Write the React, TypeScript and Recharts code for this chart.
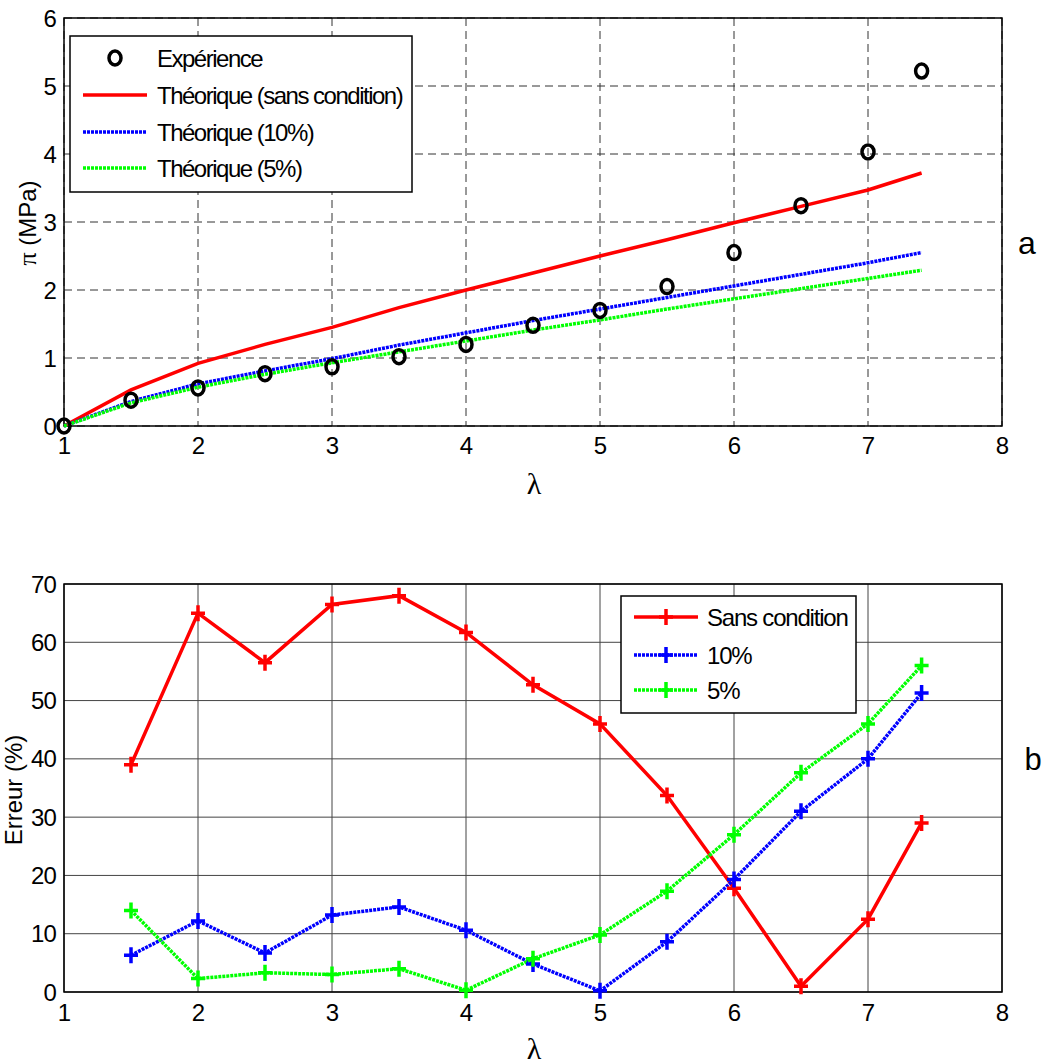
import React from 'react';
import { LineChart, Line, XAxis, YAxis, CartesianGrid, ReferenceArea } from 'recharts';

// --- (a) pression vs lambda ---
const lambdaTop = [1, 1.5, 2, 2.5, 3, 3.5, 4, 4.5, 5, 5.5, 6, 6.5, 7, 7.4];
const experience = [0, 0.38, 0.56, 0.77, 0.87, 1.02, 1.2, 1.48, 1.7, 2.05, 2.55, 3.24, 4.03, 5.22];
const theoSans = [0, 0.53, 0.92, 1.2, 1.45, 1.74, 2.0, 2.25, 2.5, 2.74, 2.99, 3.23, 3.47, 3.72];
const theo10 = [0, 0.36, 0.62, 0.81, 0.99, 1.19, 1.37, 1.55, 1.72, 1.89, 2.06, 2.23, 2.4, 2.55];
const theo5 = [0, 0.34, 0.57, 0.76, 0.93, 1.09, 1.25, 1.41, 1.56, 1.72, 1.87, 2.02, 2.17, 2.29];
const xTicks = [1, 2, 3, 4, 5, 6, 7, 8];
const yTicksTop = [0, 1, 2, 3, 4, 5, 6];

// --- (b) erreur vs lambda ---
const lambdaErr = [1.5, 2, 2.5, 3, 3.5, 4, 4.5, 5, 5.5, 6, 6.5, 7, 7.4];
const errSans = [39, 65, 56.5, 66.5, 68, 61.7, 52.7, 46, 33.7, 17.8, 1, 12.5, 29];
const err10 = [6.3, 12.2, 6.7, 13.2, 14.6, 10.6, 4.8, 0.2, 8.6, 19.3, 31, 40, 51.3];
const err5 = [14, 2.3, 3.3, 3, 4, 0.3, 5.7, 9.8, 17.3, 27, 37.6, 46, 56];
const yTicksErr = [0, 10, 20, 30, 40, 50, 60, 70];

const topData = lambdaTop.map((l, i) => ({
  l,
  exp: experience[i],
  sans: theoSans[i],
  p10: theo10[i],
  p5: theo5[i],
}));

const errData = lambdaErr.map((l, i) => ({
  l,
  sans: errSans[i],
  p10: err10[i],
  p5: err5[i],
}));

const FONT = '"Liberation Sans", Arial, sans-serif';
const SERIF = '"Liberation Serif", "DejaVu Serif", serif';
const RED = '#ff0000';
const BLUE = '#0000ff';
const GREEN = '#00ff00';
const tick = { fontSize: 24, fill: '#000', fontFamily: FONT, letterSpacing: -0.8 };

const circleDot = (props: any) => (
  <ellipse key={`o-${props.index}`} cx={props.cx} cy={props.cy} rx={6} ry={7}
    fill="none" stroke="#000" strokeWidth={3.5} />
);

const crossDot = (color: string) => (props: any) => (
  <path key={`x-${color}-${props.index}`}
    d={`M${props.cx - 7},${props.cy}H${props.cx + 7}M${props.cx},${props.cy - 8}V${props.cy + 8}`}
    stroke={color} strokeWidth={3.5} fill="none" />
);

export default function App() {
  return (
    <div style={{ position: 'absolute', left: 0, top: 0, width: 1046, height: 1063, background: '#fff', fontFamily: FONT }}>
      {/* graphe a */}
      <div style={{ position: 'absolute', left: 0, top: 0 }}>
        <LineChart width={1046} height={480} data={topData}
          margin={{ top: 18, right: 44, left: 14, bottom: 24 }}>
          <CartesianGrid stroke="#333" strokeDasharray="8 5" strokeWidth={1} />
          <XAxis dataKey="l" type="number" domain={[1, 8]} ticks={xTicks} height={30}
            tick={tick} tickLine={false} axisLine={false} tickMargin={5} interval={0} />
          <YAxis type="number" domain={[0, 6]} ticks={yTicksTop} width={50}
            tick={tick} tickLine={false} axisLine={false} interval={0} />
          <ReferenceArea x1={1} x2={8} y1={0} y2={6} fill="none" stroke="#000" strokeWidth={1.5} />
          <Line dataKey="sans" stroke={RED} strokeWidth={3.5} dot={false} isAnimationActive={false} />
          <Line dataKey="p10" stroke={BLUE} strokeWidth={3.5} strokeDasharray="3 1" dot={false} isAnimationActive={false} />
          <Line dataKey="p5" stroke={GREEN} strokeWidth={3.5} strokeDasharray="3 1" dot={false} isAnimationActive={false} />
          <Line dataKey="exp" stroke="none" dot={circleDot} activeDot={false} isAnimationActive={false} />
        </LineChart>
      </div>

      {/* graphe b */}
      <div style={{ position: 'absolute', left: 0, top: 560 }}>
        <LineChart width={1046} height={480} data={errData}
          margin={{ top: 24, right: 44, left: 14, bottom: 18 }}>
          <CartesianGrid stroke="#444" strokeWidth={1} />
          <XAxis dataKey="l" type="number" domain={[1, 8]} ticks={xTicks} height={30}
            tick={tick} tickLine={false} axisLine={false} tickMargin={6} interval={0} />
          <YAxis type="number" domain={[0, 70]} ticks={yTicksErr} width={50}
            tick={tick} tickLine={false} axisLine={false} interval={0} />
          <ReferenceArea x1={1} x2={8} y1={0} y2={70} fill="none" stroke="#000" strokeWidth={1.5} />
          <Line dataKey="sans" stroke={RED} strokeWidth={3.5} dot={crossDot(RED)} activeDot={false} isAnimationActive={false} />
          <Line dataKey="p10" stroke={BLUE} strokeWidth={3.5} strokeDasharray="3 1" dot={crossDot(BLUE)} activeDot={false} isAnimationActive={false} />
          <Line dataKey="p5" stroke={GREEN} strokeWidth={3.5} strokeDasharray="3 1" dot={crossDot(GREEN)} activeDot={false} isAnimationActive={false} />
        </LineChart>
      </div>

      {/* légendes et titres */}
      <svg width={1046} height={1063} style={{ position: 'absolute', left: 0, top: 0, pointerEvents: 'none' }}
        fontFamily={FONT}>
        {/* légende a */}
        <rect x={70} y={36} width={342} height={156} fill="#fff" stroke="#000" strokeWidth={1.5} />
        <ellipse cx={115} cy={58} rx={6} ry={7} fill="none" stroke="#000" strokeWidth={3.5} />
        <line x1={83} x2={147} y1={95} y2={95} stroke={RED} strokeWidth={3.5} />
        <line x1={83} x2={147} y1={132} y2={132} stroke={BLUE} strokeWidth={3.5} strokeDasharray="3 1" />
        <line x1={83} x2={147} y1={168} y2={168} stroke={GREEN} strokeWidth={3.5} strokeDasharray="3 1" />
        <g fontSize={24} letterSpacing={-1.5} fill="#000">
          <text x={157} y={58} dominantBaseline="central">Expérience</text>
          <text x={157} y={95} dominantBaseline="central">Théorique (sans condition)</text>
          <text x={157} y={132} dominantBaseline="central">Théorique (10%)</text>
          <text x={157} y={168} dominantBaseline="central">Théorique (5%)</text>
        </g>

        {/* légende b */}
        <rect x={621} y={596} width={235} height={117} fill="#fff" stroke="#000" strokeWidth={1.5} />
        <line x1={634} x2={698} y1={617} y2={617} stroke={RED} strokeWidth={3.5} />
        <path d="M659,617H673M666,609V625" stroke={RED} strokeWidth={3.5} />
        <line x1={634} x2={698} y1={655} y2={655} stroke={BLUE} strokeWidth={3.5} strokeDasharray="3 1" />
        <path d="M659,655H673M666,647V663" stroke={BLUE} strokeWidth={3.5} />
        <line x1={634} x2={698} y1={690} y2={690} stroke={GREEN} strokeWidth={3.5} strokeDasharray="3 1" />
        <path d="M659,690H673M666,682V698" stroke={GREEN} strokeWidth={3.5} />
        <g fontSize={24} letterSpacing={-1.2} fill="#000">
          <text x={707} y={617} dominantBaseline="central">Sans condition</text>
          <text x={707} y={655} dominantBaseline="central">10%</text>
          <text x={707} y={690} dominantBaseline="central">5%</text>
        </g>

        {/* titres d'axes */}
        <text transform="translate(27,223) rotate(-90)" textAnchor="middle" dominantBaseline="central" fontSize={24}>
          <tspan fontFamily={SERIF} fontSize={26}>π</tspan> (MPa)
        </text>
        <text x={534} y={483} textAnchor="middle" dominantBaseline="central" fontSize={30} fontFamily={SERIF}>λ</text>
        <text x={1027} y={243} textAnchor="middle" dominantBaseline="central" fontSize={32}>a</text>

        <text transform="translate(13,790) rotate(-90)" textAnchor="middle" dominantBaseline="central" fontSize={24}>Erreur (%)</text>
        <text x={534} y={1048} textAnchor="middle" dominantBaseline="central" fontSize={30} fontFamily={SERIF}>λ</text>
        <text x={1033} y={759} textAnchor="middle" dominantBaseline="central" fontSize={31}>b</text>
      </svg>
    </div>
  );
}
